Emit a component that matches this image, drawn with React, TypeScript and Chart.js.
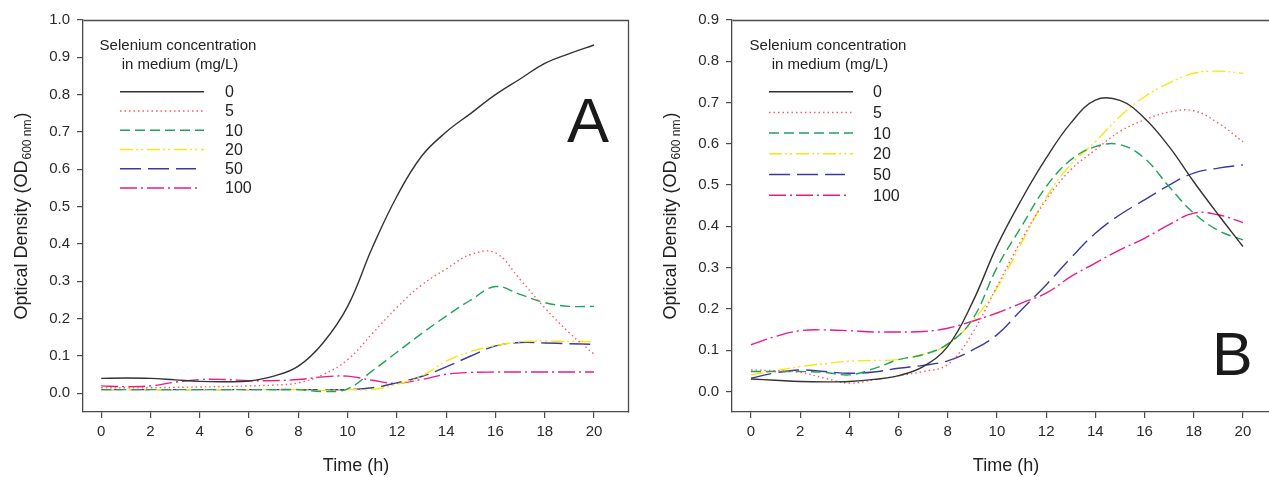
import React, { useEffect, useRef } from 'react';
import { Chart, registerables } from 'chart.js';

Chart.register(...registerables);

// ---------- DATA ----------
const hours = [0, 1, 2, 3, 4, 5, 6, 7, 8, 9, 10, 11, 12, 13, 14, 15, 16, 17, 18, 19, 20];
const concentrations = ['0', '5', '10', '20', '50', '100'];
const xTickValues = [0, 2, 4, 6, 8, 10, 12, 14, 16, 18, 20];
const yTicksA = [0, 0.1, 0.2, 0.3, 0.4, 0.5, 0.6, 0.7, 0.8, 0.9, 1.0];
const yTicksB = [0, 0.1, 0.2, 0.3, 0.4, 0.5, 0.6, 0.7, 0.8, 0.9];
const legendTitle = ['Selenium concentration', 'in medium (mg/L)'];
const xTitle = 'Time (h)';
const yTitleMain = 'Optical Density (OD';
const yTitleSub = '600 nm';
const yTitleEnd = ')';

// Panel A
const a0 = [0.040, 0.041, 0.040, 0.036, 0.032, 0.031, 0.033, 0.046, 0.073, 0.135, 0.233, 0.390, 0.528, 0.635, 0.700, 0.750, 0.800, 0.842, 0.884, 0.910, 0.933];
const a5 = [0.015, 0.015, 0.015, 0.016, 0.017, 0.018, 0.020, 0.022, 0.028, 0.050, 0.090, 0.160, 0.230, 0.290, 0.333, 0.372, 0.376, 0.305, 0.229, 0.162, 0.105];
const a10 = [0.010, 0.010, 0.010, 0.010, 0.010, 0.010, 0.010, 0.010, 0.010, 0.005, 0.012, 0.060, 0.110, 0.160, 0.207, 0.250, 0.286, 0.265, 0.243, 0.233, 0.233];
const a20 = [0.010, 0.010, 0.010, 0.010, 0.010, 0.010, 0.010, 0.010, 0.010, 0.008, 0.010, 0.010, 0.024, 0.046, 0.086, 0.112, 0.128, 0.138, 0.140, 0.139, 0.139];
const a50 = [0.010, 0.010, 0.010, 0.010, 0.010, 0.010, 0.010, 0.010, 0.010, 0.010, 0.010, 0.015, 0.028, 0.045, 0.071, 0.100, 0.127, 0.136, 0.135, 0.133, 0.131];
const a100 = [0.020, 0.018, 0.020, 0.030, 0.037, 0.037, 0.034, 0.034, 0.037, 0.044, 0.046, 0.035, 0.027, 0.037, 0.051, 0.056, 0.057, 0.057, 0.057, 0.057, 0.057];

// Panel B
const b0 = [0.030, 0.027, 0.024, 0.023, 0.024, 0.029, 0.038, 0.060, 0.109, 0.215, 0.352, 0.465, 0.565, 0.650, 0.706, 0.705, 0.662, 0.593, 0.508, 0.428, 0.351];
const b5 = [0.052, 0.050, 0.046, 0.032, 0.020, 0.028, 0.038, 0.048, 0.065, 0.141, 0.254, 0.367, 0.464, 0.537, 0.585, 0.630, 0.658, 0.677, 0.680, 0.650, 0.605];
const b10 = [0.048, 0.048, 0.048, 0.046, 0.040, 0.055, 0.077, 0.089, 0.115, 0.174, 0.300, 0.400, 0.496, 0.561, 0.593, 0.598, 0.565, 0.496, 0.432, 0.390, 0.367];
const b20 = [0.040, 0.050, 0.060, 0.067, 0.073, 0.075, 0.077, 0.090, 0.113, 0.170, 0.250, 0.360, 0.470, 0.550, 0.605, 0.666, 0.714, 0.747, 0.771, 0.776, 0.771];
const b50 = [0.032, 0.045, 0.052, 0.048, 0.044, 0.047, 0.056, 0.063, 0.074, 0.100, 0.137, 0.198, 0.258, 0.323, 0.383, 0.428, 0.464, 0.500, 0.529, 0.541, 0.549];
const b100 = [0.113, 0.133, 0.147, 0.149, 0.147, 0.144, 0.144, 0.145, 0.153, 0.170, 0.190, 0.214, 0.238, 0.278, 0.311, 0.343, 0.371, 0.404, 0.432, 0.428, 0.409];

const seriesA = [a0, a5, a10, a20, a50, a100];
const seriesB = [b0, b5, b10, b20, b50, b100];

// ---------- STYLE ----------
const FONT = '"Liberation Sans", Arial, sans-serif';
const colors = ['#333333', '#ff5a5a', '#1ea35a', '#f5e614', '#3b3b9e', '#ec1a86'];
const dashes: number[][] = [[], [1.5, 3], [10, 5], [13, 3, 2, 3, 2, 4], [21, 7], [17, 4, 2, 4]];
const sampleLen = [84, 84, 84, 84, 76, 81];

type PanelCfg = {
  letter: string;
  letterX: number;
  letterY: number;
  letterSize: number;
  yAxisWidth: number;
  padRight: number;
  xMin: number;
  xMax: number;
  yMax: number;
  yTicks: number[];
  series: number[][];
  openRight: boolean;
  titleCx: number;
  lineX1: number;
  labelX: number;
  rowY0: number;
  rowStep: number;
  xTitleCx: number;
  yTitleCx: number;
};

function panelPlugin(p: PanelCfg) {
  return {
    id: 'panelDecor' + p.letter,
    afterDraw(chart: any) {
      const ctx: CanvasRenderingContext2D = chart.ctx;
      const a = chart.chartArea;
      ctx.save();
      // frame top & right
      ctx.strokeStyle = '#4a4a4a';
      ctx.lineWidth = 1.3;
      ctx.setLineDash([]);
      ctx.beginPath();
      const top = Math.round(a.top) + 0.5;
      const left = Math.round(a.left) + 0.5;
      ctx.moveTo(left, top);
      if (p.openRight) {
        ctx.lineTo(chart.width + 5, top);
      } else {
        const right = Math.round(a.right) - 0.5;
        ctx.lineTo(right, top);
        ctx.lineTo(right, Math.round(a.bottom) + 0.5);
      }
      ctx.stroke();

      // legend
      ctx.fillStyle = '#222';
      ctx.font = `15px ${FONT}`;
      ctx.textBaseline = 'middle';
      ctx.textAlign = 'center';
      ctx.fillText(legendTitle[0], p.titleCx, 46);
      ctx.fillText(legendTitle[1], p.titleCx + 2, 65);
      for (let i = 0; i < concentrations.length; i++) {
        const y = p.rowY0 + i * p.rowStep;
        ctx.strokeStyle = colors[i];
        ctx.lineWidth = 1.5;
        ctx.setLineDash(dashes[i]);
        ctx.beginPath();
        ctx.moveTo(p.lineX1, y);
        ctx.lineTo(p.lineX1 + sampleLen[i], y);
        ctx.stroke();
        ctx.setLineDash([]);
        ctx.textAlign = 'left';
        ctx.fillStyle = '#222';
        ctx.font = `16px ${FONT}`;
        ctx.fillText(concentrations[i], p.labelX, y + 1);
      }

      // panel letter
      ctx.font = `${p.letterSize}px ${FONT}`;
      ctx.textBaseline = 'alphabetic';
      ctx.textAlign = 'left';
      ctx.fillStyle = '#1a1a1a';
      ctx.fillText(p.letter, p.letterX, p.letterY);

      // x title
      ctx.font = `18px ${FONT}`;
      ctx.textAlign = 'center';
      ctx.textBaseline = 'middle';
      ctx.fillStyle = '#222';
      ctx.fillText(xTitle, p.xTitleCx, 466);

      // y title (rotated, with subscript)
      const cy = (a.top + a.bottom) / 2;
      ctx.translate(p.yTitleCx, cy);
      ctx.rotate(-Math.PI / 2);
      ctx.textBaseline = 'alphabetic';
      ctx.textAlign = 'left';
      ctx.font = `18px ${FONT}`;
      const w1 = ctx.measureText(yTitleMain).width;
      const w3 = ctx.measureText(yTitleEnd).width;
      ctx.font = `12px ${FONT}`;
      const w2 = ctx.measureText(yTitleSub).width + 2;
      const total = w1 + w2 + w3;
      const x0 = -total / 2;
      ctx.font = `18px ${FONT}`;
      ctx.fillText(yTitleMain, x0, 6.5);
      ctx.font = `12px ${FONT}`;
      ctx.fillText(yTitleSub, x0 + w1 + 1, 10.5);
      ctx.font = `18px ${FONT}`;
      ctx.fillText(yTitleEnd, x0 + w1 + w2, 6.5);
      ctx.restore();
    },
  };
}

function buildChart(canvas: HTMLCanvasElement, p: PanelCfg) {
  const datasets = p.series.map((s, i) => ({
    label: concentrations[i],
    data: hours.map((h, j) => ({ x: h, y: s[j] })),
    borderColor: colors[i],
    borderWidth: 1.4,
    borderDash: dashes[i],
    pointRadius: 0,
    fill: false,
    tension: 0.4,
  }));
  return new Chart(canvas, {
    type: 'line',
    data: { datasets },
    options: {
      animation: false,
      responsive: false,
      devicePixelRatio: 1,
      layout: { padding: { top: 20, right: p.padRight, left: 0, bottom: 0 } },
      plugins: { legend: { display: false }, tooltip: { enabled: false }, title: { display: false } },
      scales: {
        x: {
          type: 'linear',
          min: p.xMin,
          max: p.xMax,
          afterBuildTicks: (s: any) => {
            s.ticks = xTickValues.map((v) => ({ value: v }));
          },
          afterFit: (s: any) => {
            s.height = 65;
          },
          ticks: {
            color: '#2a2a2a',
            font: { family: FONT, size: 15 },
            padding: 5,
            maxRotation: 0,
            autoSkip: false,
            callback: (v: any) => String(v),
          },
          grid: { display: true, drawOnChartArea: false, drawTicks: true, tickLength: 6, color: '#4a4a4a', lineWidth: 1.2 },
          border: { display: true, color: '#4a4a4a', width: 1.3 },
        },
        y: {
          type: 'linear',
          min: -0.05,
          max: p.yMax,
          afterBuildTicks: (s: any) => {
            s.ticks = p.yTicks.map((v) => ({ value: v }));
          },
          afterFit: (s: any) => {
            s.width = p.yAxisWidth;
          },
          ticks: {
            color: '#2a2a2a',
            font: { family: FONT, size: 15 },
            padding: 7,
            autoSkip: false,
            callback: (v: any) => Number(v).toFixed(1),
          },
          grid: { display: true, drawOnChartArea: false, drawTicks: true, tickLength: 6, color: '#4a4a4a', lineWidth: 1.2 },
          border: { display: true, color: '#4a4a4a', width: 1.3 },
        },
      },
    },
    plugins: [panelPlugin(p)],
  });
}

const panelA: PanelCfg = {
  letter: 'A',
  letterX: 567,
  letterY: 142,
  letterSize: 63,
  yAxisWidth: 83,
  padRight: 11,
  xMin: -0.74,
  xMax: 21.42,
  yMax: 1.0,
  yTicks: yTicksA,
  series: seriesA,
  openRight: false,
  titleCx: 178,
  lineX1: 120,
  labelX: 225,
  rowY0: 91.7,
  rowStep: 19.25,
  xTitleCx: 356,
  yTitleCx: 20,
};

const panelB: PanelCfg = {
  letter: 'B',
  letterX: 572,
  letterY: 375,
  letterSize: 61,
  yAxisWidth: 92,
  padRight: 0,
  xMin: -0.77,
  xMax: 21.06,
  yMax: 0.9,
  yTicks: yTicksB,
  series: seriesB,
  openRight: true,
  titleCx: 188,
  lineX1: 129,
  labelX: 233,
  rowY0: 91.7,
  rowStep: 20.7,
  xTitleCx: 366,
  yTitleCx: 29,
};

export default function App() {
  const refA = useRef<HTMLCanvasElement>(null);
  const refB = useRef<HTMLCanvasElement>(null);
  useEffect(() => {
    const cA = buildChart(refA.current!, panelA);
    const cB = buildChart(refB.current!, panelB);
    return () => {
      cA.destroy();
      cB.destroy();
    };
  }, []);
  return (
    <div style={{ position: 'fixed', left: 0, top: 0, width: 1269, height: 477, background: '#fff', overflow: 'hidden' }}>
      <canvas ref={refA} width={640} height={477} style={{ position: 'absolute', left: 0, top: 0, width: 640, height: 477 }} />
      <canvas ref={refB} width={629} height={477} style={{ position: 'absolute', left: 640, top: 0, width: 629, height: 477 }} />
    </div>
  );
}
